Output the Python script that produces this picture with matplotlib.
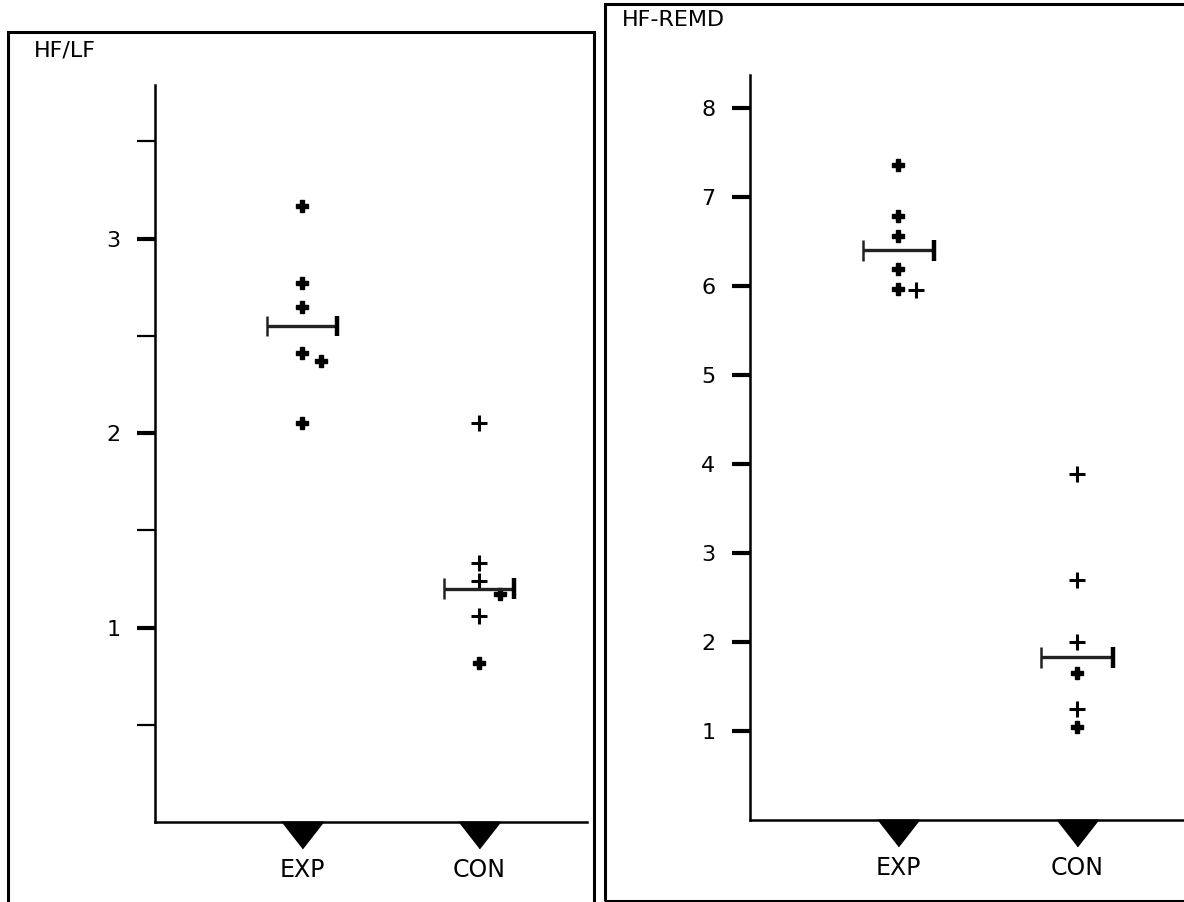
import numpy as np
from matplotlib import pyplot as plt
from matplotlib.patches import Rectangle

plt.rcParams['font.family'] = ['DejaVu Sans']

groups = ['EXP', 'CON']

# HF/LF panel
hflf_exp = [3.17, 2.77, 2.65, 2.41, 2.37, 2.05]
hflf_exp_dx = [0, 0, 0, 0, 0.11, 0]
hflf_exp_thin = [False, False, False, False, False, False]
hflf_con = [2.05, 1.33, 1.24, 1.17, 1.06, 0.82]
hflf_con_dx = [0, 0, 0, 0.12, 0, 0]
hflf_con_thin = [True, True, True, False, True, False]
hflf_means = [2.55, 1.20]

# HF-REMD panel
remd_exp = [7.36, 6.79, 6.56, 6.19, 5.97, 5.96]
remd_exp_dx = [0, 0, 0, 0, 0, 0.1]
remd_exp_thin = [False, False, False, False, False, True]
remd_con = [3.89, 2.70, 2.00, 1.65, 1.25, 1.04]
remd_con_dx = [0, 0, 0, 0, 0, 0]
remd_con_thin = [True, True, True, False, True, False]
remd_means = [6.40, 1.83]

W, H = 1184, 902
fig = plt.figure(figsize=(W / 100, H / 100), dpi=100)

# panel frames (pixel coords -> figure fraction)
def frame(x0, y0, x1, y1):
    r = Rectangle((x0 / W, 1 - y1 / H), (x1 - x0) / W, (y1 - y0) / H,
                  transform=fig.transFigure, fill=False, lw=2.2, ec='black')
    fig.add_artist(r)

frame(8, 32, 594, 930)
frame(605, 4, 1200, 901)


def draw_panel(rect, title, title_xy, ymax, xlim, ticks, labels, data):
    ax = fig.add_axes(rect)
    ax.set_xlim(*xlim)
    ax.set_ylim(0, ymax)
    for s in ['top', 'right']:
        ax.spines[s].set_visible(False)
    ax.spines['left'].set_linewidth(1.8)
    ax.spines['bottom'].set_linewidth(1.8)
    ax.set_yticks(ticks)
    ax.set_yticklabels(labels, fontsize=16)
    ax.tick_params(axis='y', direction='out', length=13, width=1.6, pad=12)
    # labelled ticks drawn heavier
    for tl, lab in zip(ax.yaxis.get_major_ticks(), labels):
        if lab:
            tl.tick1line.set_markeredgewidth(3.0)
    ax.set_xticks([1, 2])
    ax.set_xticklabels(groups, fontsize=17)
    ax.tick_params(axis='x', length=0, pad=26)
    # downward triangles under each group
    tri = [(-1, 0.64), (1, 0.64), (0, -0.64)]
    ax.plot([1, 2], [-0.018, -0.018], ls='none', marker=tri, ms=30,
            color='black', transform=ax.get_xaxis_transform(), clip_on=False)
    for gi, (vals, dxs, thin, mean) in enumerate(data):
        x0 = gi + 1
        for v, dx, t in zip(vals, dxs, thin):
            if t:
                ax.plot(x0 + dx, v, marker='+', ms=11, mew=2.2, color='black')
            else:
                ax.plot(x0 + dx, v, marker='P', ms=9, color='black')
        ax.hlines(mean, x0 - 0.2, x0 + 0.2, color='#222222', lw=2.4)
        ax.vlines(x0 - 0.2, mean - ymax * 0.014, mean + ymax * 0.014, color='#222222', lw=1.8)
        ax.vlines(x0 + 0.2, mean - ymax * 0.014, mean + ymax * 0.014, color='black', lw=3.2)
    fig.text(title_xy[0] / W, 1 - title_xy[1] / H, title, fontsize=16,
             ha='left', va='center')
    return ax


left_ticks = [0.5, 1, 1.5, 2, 2.5, 3, 3.5]
left_labels = ['', '1', '', '2', '', '3', '']
draw_panel([155 / W, 80 / H, (587 - 155) / W, (822 - 85) / H], 'HF/LF', (34, 51),
           3.79, (0.17, 2.61), left_ticks, left_labels,
           [(hflf_exp, hflf_exp_dx, hflf_exp_thin, hflf_means[0]),
            (hflf_con, hflf_con_dx, hflf_con_thin, hflf_means[1])])

right_ticks = [1, 2, 3, 4, 5, 6, 7, 8]
right_labels = ['1', '2', '3', '4', '5', '6', '7', '8']
draw_panel([750 / W, 82 / H, (1184 - 750) / W, (820 - 75) / H], 'HF-REMD', (622, 20),
           8.37, (0.17, 2.6), right_ticks, right_labels,
           [(remd_exp, remd_exp_dx, remd_exp_thin, remd_means[0]),
            (remd_con, remd_con_dx, remd_con_thin, remd_means[1])])

plt.savefig('out.png', dpi=100)
